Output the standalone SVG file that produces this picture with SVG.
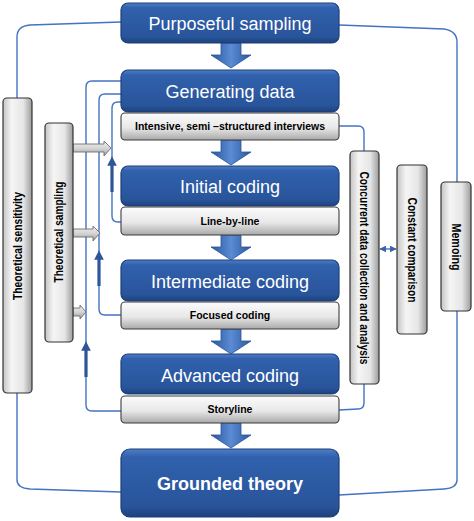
<svg xmlns="http://www.w3.org/2000/svg" width="474" height="521" viewBox="0 0 474 521">
<defs>
<linearGradient id="gBlue" x1="0" y1="0" x2="0" y2="1">
<stop offset="0" stop-color="#4f7ec6"/><stop offset="0.12" stop-color="#3161ad"/><stop offset="0.85" stop-color="#28549a"/><stop offset="1" stop-color="#1d417c"/>
</linearGradient>
<linearGradient id="gSub" x1="0" y1="0" x2="0" y2="1">
<stop offset="0" stop-color="#fbfbfb"/><stop offset="0.55" stop-color="#e8e8e8"/><stop offset="1" stop-color="#a9a9a9"/>
</linearGradient>
<linearGradient id="gVert" x1="0" y1="0" x2="1" y2="0">
<stop offset="0" stop-color="#c4c4c4"/><stop offset="0.3" stop-color="#f5f5f5"/><stop offset="0.7" stop-color="#e6e6e6"/><stop offset="1" stop-color="#9c9c9c"/>
</linearGradient>
<linearGradient id="gArrow" x1="0" y1="0" x2="1" y2="0">
<stop offset="0" stop-color="#2a589e"/><stop offset="0.5" stop-color="#5b8bd4"/><stop offset="1" stop-color="#2a589e"/>
</linearGradient>
<linearGradient id="gGrayArr" x1="0" y1="0" x2="0" y2="1">
<stop offset="0" stop-color="#f0f0f0"/><stop offset="0.5" stop-color="#d4d4d4"/><stop offset="1" stop-color="#9a9a9a"/>
</linearGradient>
<path id="darr" d="M-10,0 H10 V12 H20 L0,25 L-20,12 H-10 Z"/>
<marker id="up" viewBox="0 0 10 10" refX="5" refY="5" markerWidth="3" markerHeight="3" orient="auto">
<path d="M0,0 L10,5 L0,10 Z" fill="#2e5597"/>
</marker>
<marker id="dbl" viewBox="0 0 10 10" refX="9" refY="5" markerWidth="5" markerHeight="5" orient="auto-start-reverse">
<path d="M0,0 L10,5 L0,10 Z" fill="#3a64a8"/>
</marker>
<style>
.blue{fill:url(#gBlue);stroke:#1d3f78;stroke-width:1.2}
.sub{fill:url(#gSub);stroke:#3c3c3c;stroke-width:1.1}
.vert{fill:url(#gVert);stroke:#333;stroke-width:1.2}
.t{font-family:"Liberation Sans",Arial,sans-serif;fill:#fff;font-size:18px;text-anchor:middle}
.s{font-family:"Liberation Sans",Arial,sans-serif;fill:#000;font-size:10.5px;font-weight:bold;text-anchor:middle}
.v{font-family:"Liberation Sans",Arial,sans-serif;fill:#000;font-size:12px;font-weight:bold;text-anchor:middle}
.c{fill:none;stroke:#4472c4;stroke-width:1.4}
.k{stroke:#2e5597;stroke-width:3.2}
.da{fill:url(#gArrow);stroke:#2a5499;stroke-width:0.8}
.ga{fill:url(#gGrayArr);stroke:#6e6e6e;stroke-width:0.9}
</style>
</defs>

<g id="connectors">
<path class="c" d="M121,22 L30,25 Q17,26 17,37 L17,98"/>
<path class="c" d="M17,393 L17,480 Q17,488 30,489 L121,492"/>
<path class="c" d="M339,25 L444,29 Q457,31 457,42 L457,182"/>
<path class="c" d="M457,311 L457,480 Q457,488 444,489 L339,495"/>
<path class="c" d="M339,126 L358,126 Q364,126 364,132 L364,151"/>
<path class="c" d="M364,384 L364,403 Q364,409 358,409 L339,410"/>
<path class="c" d="M380,249 L396,249" marker-start="url(#dbl)" marker-end="url(#dbl)"/>
<path class="c" d="M121,81 L92,81 Q86,81 86,87 L86,405 Q86,411 92,411 L121,411"/>
<path class="c" d="M121,94 L105,94 Q99,94 99,100 L99,309 Q99,315 105,315 L121,315"/>
<path class="c" d="M121,102 L118,102 Q112,102 112,108 L112,216 Q112,222 118,222 L121,222"/>
<line class="k" x1="86" y1="377" x2="86" y2="346" marker-end="url(#up)"/>
<line class="k" x1="99" y1="286" x2="99" y2="255" marker-end="url(#up)"/>
<line class="k" x1="112" y1="192" x2="112" y2="161" marker-end="url(#up)"/>
<use href="#darr" class="da" transform="translate(231,43)"/>
<use href="#darr" class="da" transform="translate(231,140)"/>
<use href="#darr" class="da" transform="translate(231,235)"/>
<use href="#darr" class="da" transform="translate(231,329)"/>
<use href="#darr" class="da" transform="translate(231,423)"/>
<path class="ga" d="M73,144 H104 V141 L111,148 L104,156 V152 H73 Z"/>
<path class="ga" d="M73,229 H93 V226 L100,233 L93,241 V237 H73 Z"/>
<path class="ga" d="M73,308 H80 V305 L86,312 L80,319 V316 H73 Z"/>
</g>

<g id="purposeful-sampling">
<rect class="blue" x="121" y="3" width="218" height="40" rx="7"/>
<text class="t" x="230" y="30">Purposeful sampling</text>
</g>
<g id="generating-data">
<rect class="blue" x="121" y="70" width="218" height="42" rx="7"/>
<text class="t" x="230" y="98">Generating data</text>
</g>
<g id="intensive-interviews">
<rect class="sub" x="121" y="113" width="218" height="27" rx="4"/>
<text class="s" x="230" y="130" textLength="190" lengthAdjust="spacingAndGlyphs">Intensive, semi –structured interviews</text>
</g>
<g id="initial-coding">
<rect class="blue" x="121" y="166" width="218" height="40" rx="7"/>
<text class="t" x="230" y="193">Initial coding</text>
</g>
<g id="line-by-line">
<rect class="sub" x="121" y="207" width="218" height="28" rx="4"/>
<text class="s" x="230" y="225">Line-by-line</text>
</g>
<g id="intermediate-coding">
<rect class="blue" x="121" y="260" width="218" height="41" rx="7"/>
<text class="t" x="230" y="288">Intermediate coding</text>
</g>
<g id="focused-coding">
<rect class="sub" x="121" y="302" width="218" height="27" rx="4"/>
<text class="s" x="230" y="319">Focused coding</text>
</g>
<g id="advanced-coding">
<rect class="blue" x="121" y="354" width="218" height="40" rx="7"/>
<text class="t" x="230" y="382">Advanced coding</text>
</g>
<g id="storyline">
<rect class="sub" x="121" y="396" width="218" height="27" rx="4"/>
<text class="s" x="230" y="413">Storyline</text>
</g>
<g id="grounded-theory">
<rect class="blue" x="121" y="449" width="218" height="68" rx="9"/>
<text class="t" x="230" y="490" font-weight="bold">Grounded theory</text>
</g>

<g id="theoretical-sensitivity">
<rect class="vert" x="3" y="98" width="29" height="295" rx="4"/>
<text class="v" transform="translate(22,246) rotate(-90)" textLength="108" lengthAdjust="spacingAndGlyphs">Theoretical sensitivity</text>
</g>
<g id="theoretical-sampling">
<rect class="vert" x="45" y="123" width="28" height="219" rx="4"/>
<text class="v" transform="translate(63,232) rotate(-90)" textLength="101" lengthAdjust="spacingAndGlyphs">Theoretical sampling</text>
</g>
<g id="concurrent">
<rect class="vert" x="350" y="151" width="29" height="233" rx="4"/>
<text class="v" transform="translate(360,268) rotate(90)" textLength="193" lengthAdjust="spacingAndGlyphs">Concurrent data collection and analysis</text>
</g>
<g id="constant-comparison">
<rect class="vert" x="397" y="165" width="30" height="169" rx="4"/>
<text class="v" transform="translate(408,250) rotate(90)" textLength="105" lengthAdjust="spacingAndGlyphs">Constant comparison</text>
</g>
<g id="memoing">
<rect class="vert" x="441" y="182" width="30" height="129" rx="4"/>
<text class="v" transform="translate(451.5,247) rotate(90)" textLength="47" lengthAdjust="spacingAndGlyphs">Memoing</text>
</g>
</svg>
